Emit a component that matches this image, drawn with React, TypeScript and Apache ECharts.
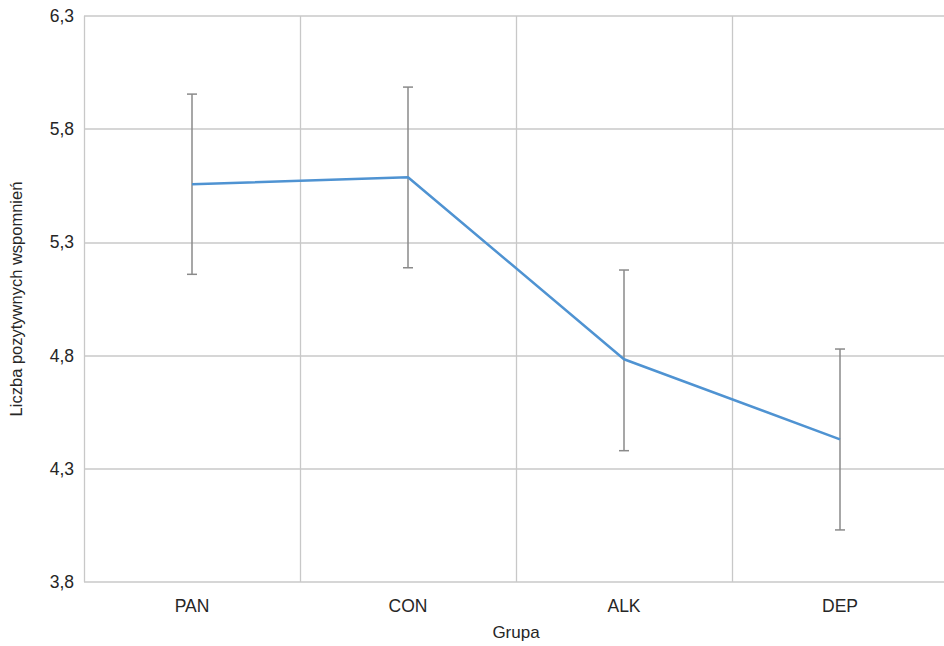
import React, { useEffect, useRef } from "react";
import * as echarts from "echarts";

const categories = ["PAN", "CON", "ALK", "DEP"];
const means = [5.557, 5.588, 4.784, 4.43];
const upper = [5.955, 5.986, 5.178, 4.829];
const lower = [5.159, 5.188, 4.38, 4.03];
const yMin = 3.8;
const yMax = 6.3;
const yStep = 0.5;

const FONT = "'Liberation Sans Narrow', 'Arial Narrow', 'Liberation Sans', Arial, sans-serif";

export default function App() {
  const ref = useRef<HTMLDivElement>(null);
  useEffect(() => {
    document.body.style.margin = "0";
    const chart = echarts.init(ref.current!, null, { renderer: "svg" });
    const errData = categories.map((_, i) => [i, lower[i], upper[i]]);
    chart.setOption({
      animation: false,
      backgroundColor: "#ffffff",
      grid: { left: 84, width: 864, top: 16, bottom: 64, containLabel: false, outerBoundsMode: "none" },
      xAxis: {
        type: "category",
        data: categories,
        boundaryGap: true,
        name: "Grupa",
        nameLocation: "middle",
        nameGap: 42,
        nameTextStyle: { color: "#262626", fontSize: 17, fontFamily: FONT },
        axisLine: { show: false },
        axisTick: { show: false },
        axisLabel: { color: "#262626", fontSize: 17.5, fontFamily: FONT, margin: 15 },
        splitLine: { show: true, lineStyle: { color: "#c8c8c8", width: 1.3 } },
      },
      yAxis: {
        type: "value",
        min: yMin,
        max: yMax,
        interval: yStep,
        name: "Liczba pozytywnych wspomnień",
        nameLocation: "middle",
        nameGap: 60,
        nameTextStyle: { color: "#262626", fontSize: 16.5, fontFamily: FONT },
        axisLine: { show: false },
        axisTick: { show: false },
        axisLabel: {
          color: "#262626",
          fontSize: 17.5,
          fontFamily: FONT,
          margin: 10,
          formatter: (v: number) => v.toFixed(1).replace(".", ","),
        },
        splitLine: { show: true, lineStyle: { color: "#c8c8c8", width: 1.5 } },
      },
      series: [
        {
          type: "line",
          data: means,
          symbol: "none",
          lineStyle: { color: "#4f93d2", width: 2.5 },
          z: 3,
        },
        {
          type: "custom",
          data: errData,
          z: 2,
          renderItem: (params: any, api: any) => {
            const x = api.value(0);
            const lo = api.coord([x, api.value(1)]);
            const hi = api.coord([x, api.value(2)]);
            const hw = 5;
            const style = { stroke: "#8a8a8a", lineWidth: 1.5 };
            return {
              type: "group",
              children: [
                { type: "line", shape: { x1: hi[0], y1: hi[1], x2: lo[0], y2: lo[1] }, style },
                { type: "line", shape: { x1: hi[0] - hw, y1: hi[1], x2: hi[0] + hw, y2: hi[1] }, style },
                { type: "line", shape: { x1: lo[0] - hw, y1: lo[1], x2: lo[0] + hw, y2: lo[1] }, style },
              ],
            };
          },
        },
      ],
    });
    return () => chart.dispose();
  }, []);
  return <div ref={ref} style={{ width: 944, height: 646 }} />;
}
